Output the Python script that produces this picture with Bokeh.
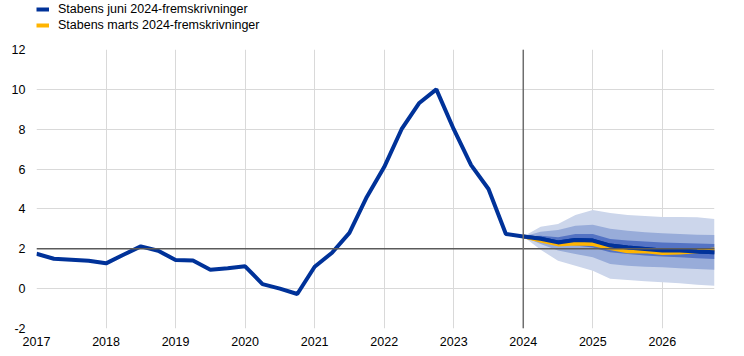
from bokeh.plotting import figure
from bokeh.models import Range1d, FixedTicker, Span, Legend, LegendItem
from bokeh.layouts import column
from bokeh.embed import file_html
from bokeh.resources import INLINE

# Historical HICP, quarterly 2017Q1 .. 2024Q1 (plotted at 2017.0 .. 2024.0)
hist_start = 2017.0
hist_values = [1.75, 1.5, 1.45, 1.4, 1.27, 1.7, 2.12, 1.9,
               1.44, 1.41, 0.95, 1.02, 1.12, 0.23, 0.0, -0.27,
               1.1, 1.8, 2.8, 4.6, 6.1, 8.0, 9.3, 10.0,
               8.0, 6.2, 5.0, 2.74, 2.62]

# Projections, quarterly 2024.0 .. 2026.75
proj_start = 2024.0
june_proj = [2.62, 2.5, 2.32, 2.44, 2.41, 2.16, 2.07, 1.99, 1.91, 1.91, 1.86, 1.82]
march_proj = [2.62, 2.41, 2.22, 2.27, 2.24, 2.04, 1.88, 1.87, 1.79, 1.81, 1.88, 1.97]

outer_hi = [2.62, 3.1, 3.25, 3.7, 3.95, 3.8, 3.7, 3.65, 3.6, 3.6, 3.58, 3.5]
outer_lo = [2.62, 1.95, 1.4, 1.15, 0.9, 0.5, 0.43, 0.37, 0.32, 0.27, 0.2, 0.15]
mid_hi = [2.62, 2.85, 2.94, 3.15, 3.2, 3.0, 2.9, 2.83, 2.78, 2.74, 2.71, 2.69]
mid_lo = [2.62, 2.24, 1.91, 1.74, 1.57, 1.24, 1.15, 1.1, 1.07, 1.02, 0.99, 0.95]
dark_hi = [2.62, 2.66, 2.58, 2.74, 2.74, 2.49, 2.41, 2.36, 2.32, 2.29, 2.27, 2.24]
dark_lo = [2.62, 2.41, 2.24, 2.16, 2.07, 1.82, 1.74, 1.66, 1.61, 1.57, 1.52, 1.49]

year_ticks = [2017, 2018, 2019, 2020, 2021, 2022, 2023, 2024, 2025, 2026]
y_ticks = [-2, 0, 2, 4, 6, 8, 10, 12]
labels = ["Stabens juni 2024-fremskrivninger", "Stabens marts 2024-fremskrivninger"]

hist_x = [hist_start + 0.25 * i for i in range(len(hist_values))]
proj_x = [proj_start + 0.25 * i for i in range(len(june_proj))]

FONT = "Liberation Sans"
FSIZE = "12.5px"
BLUE = "#003299"
YELLOW = "#ffb400"

# ---- main chart ----
p = figure(width=744, height=315, output_backend="svg", toolbar_location=None,
           x_range=Range1d(2017, 2026.75), y_range=Range1d(-2, 12),
           min_border_left=36, min_border_right=30, min_border_top=8, min_border_bottom=28)
p.outline_line_color = None
p.background_fill_color = "white"

for ax in (p.xaxis[0], p.yaxis[0]):
    ax.axis_line_color = None
    ax.major_tick_line_color = None
    ax.minor_tick_line_color = None
    ax.major_tick_out = 0
    ax.major_tick_in = 0
    ax.minor_tick_out = 0
    ax.minor_tick_in = 0
    ax.major_label_text_font = FONT
    ax.major_label_text_font_size = FSIZE
    ax.major_label_text_color = "#000000"
p.xaxis[0].ticker = FixedTicker(ticks=year_ticks)
p.yaxis[0].ticker = FixedTicker(ticks=y_ticks)
p.yaxis[0].major_label_overrides = {t: str(t) for t in y_ticks}
p.xaxis[0].major_label_standoff = 8
p.yaxis[0].major_label_standoff = 11

p.xgrid[0].ticker = FixedTicker(ticks=year_ticks)
p.ygrid[0].ticker = FixedTicker(ticks=y_ticks)
for g in (p.xgrid[0], p.ygrid[0]):
    g.grid_line_color = "#d9d9d9"
    g.grid_line_width = 1

# fan bands
p.varea(x=proj_x, y1=outer_lo, y2=outer_hi, fill_color="#ccd6eb")
p.varea(x=proj_x, y1=mid_lo, y2=mid_hi, fill_color="#98acd9")
p.varea(x=proj_x, y1=dark_lo, y2=dark_hi, fill_color="#5473c4")

p.add_layout(Span(location=2, dimension="width", line_color="#5a5a5a", line_width=1.5))
p.add_layout(Span(location=2024, dimension="height", line_color="#6e6e6e", line_width=1.5))

all_x = hist_x + proj_x[1:]
all_y = hist_values + june_proj[1:]
p.line(all_x, all_y, line_color=BLUE, line_width=4)
p.line(proj_x, march_proj, line_color=YELLOW, line_width=4)
p.line(proj_x, june_proj, line_color=BLUE, line_width=4)

# ---- legend strip on top ----
lg = figure(width=744, height=41, output_backend="svg", toolbar_location=None,
            x_range=Range1d(0, 1), y_range=Range1d(0, 1),
            min_border=0, min_border_left=0, min_border_right=0,
            min_border_top=0, min_border_bottom=0)
lg.axis.visible = False
lg.grid.visible = False
lg.outline_line_color = None
r1 = lg.line([-10, -9], [-10, -9], line_color=BLUE, line_width=4)
r2 = lg.line([-10, -9], [-10, -9], line_color=YELLOW, line_width=4)
legend = Legend(items=[LegendItem(label=labels[0], renderers=[r1]),
                       LegendItem(label=labels[1], renderers=[r2])],
                location=(0, 8), orientation="vertical",
                padding=0, margin=0, spacing=0,
                glyph_width=13, glyph_height=16, label_height=16,
                label_standoff=9, border_line_color=None,
                background_fill_alpha=0,
                label_text_font=FONT, label_text_font_size=FSIZE,
                label_text_color="#000000")
lg.add_layout(legend, "center")

layout = column(lg, p, spacing=0)
open("out.html", "w").write(file_html(layout, INLINE))
